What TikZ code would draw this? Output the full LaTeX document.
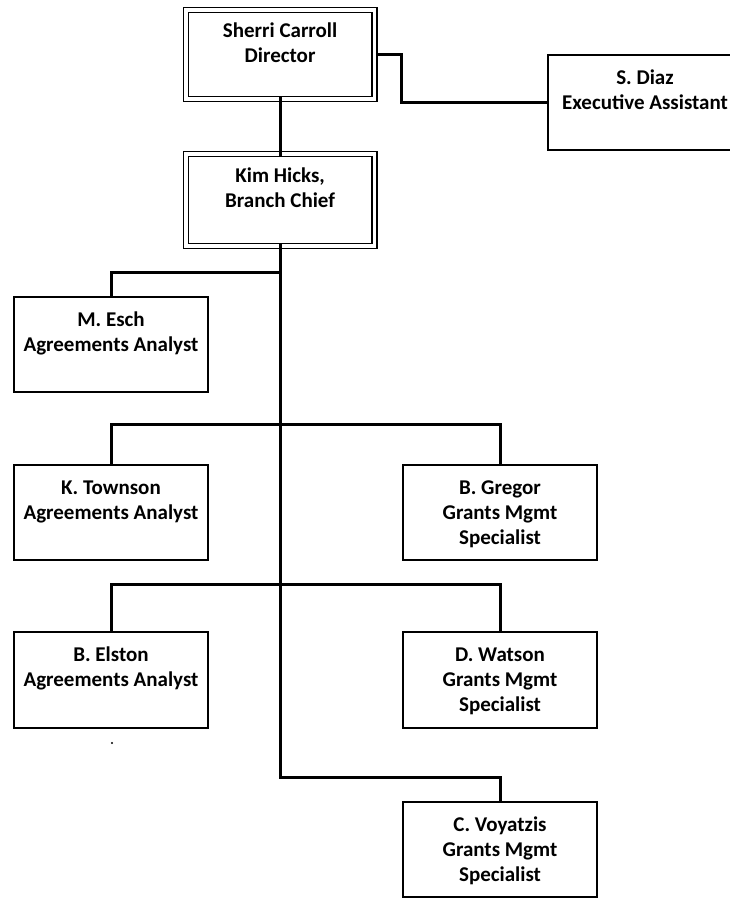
\documentclass[tikz,border=0pt]{standalone}
\usepackage{fontspec}
\setmainfont{Carlito}
\newcommand\topstrut{\rule{0pt}{15pt}}
\begin{document}
\begin{tikzpicture}[x=1pt,y=-1pt,
  box/.style={draw=black, line width=1.5pt, minimum width=194pt, minimum height=95pt, inner sep=0pt},
  dbox/.style={draw=black, line width=1.4pt, double=white, double distance=3.6pt, minimum width=188.8pt, inner sep=0pt},
  txt/.style={anchor=north, inner sep=0pt, align=center, font=\fontsize{21}{25}\selectfont\bfseries},
  conn/.style={draw=black, line width=3pt}]
\clip (0,0) rectangle (730,899);
\fill[white] (0,0) rectangle (730,899);
% boxes
\node[dbox, minimum height=89.3pt] (dir) at (280.1,54.6) {};
\node[dbox, minimum height=91.6pt] (chief) at (280.1,200) {};
\node[box] (diaz) at (645,102.5) {};
\node[box] (esch) at (111,344.5) {};
\node[box] (town) at (111,512.5) {};
\node[box] (greg) at (500,512.5) {};
\node[box, minimum height=96pt] (elst) at (111,680) {};
\node[box, minimum height=96pt] (wats) at (500,680) {};
\node[box] (voya) at (500,849.5) {};
% texts
\node[txt] (dirt) at (280.1,22.5) {\topstrut Sherri Carroll\\Director};
\node[txt] (chieft) at (280.1,167.5) {\topstrut Kim Hicks,\\Branch Chief};
\node[txt] (diazt) at (645,69.5) {\topstrut S. Diaz\\Executive Assistant};
\node[txt] (escht) at (111,311.5) {\topstrut M. Esch\\Agreements Analyst};
\node[txt] (townt) at (111,479.5) {\topstrut K. Townson\\Agreements Analyst};
\node[txt] (gregt) at (500,479.5) {\topstrut B. Gregor\\Grants Mgmt\\Specialist};
\node[txt] (elstt) at (111,646.5) {\topstrut B. Elston\\Agreements Analyst};
\node[txt] (watst) at (500,646.5) {\topstrut D. Watson\\Grants Mgmt\\Specialist};
\node[txt] (voyat) at (500,816.5) {\topstrut C. Voyatzis\\Grants Mgmt\\Specialist};
% connectors
\coordinate (j1) at (401,54.6);
\coordinate (r0) at (280.1,272);
\coordinate (r1) at (280.1,424);
\coordinate (r2) at (280.1,584);
\coordinate (r3) at (280.1,777);
\draw[conn] ([xshift=2.5pt]dir.east) -- (j1) |- (diaz.west);
\draw[conn] ([yshift=2.5pt]dir.south) -- ([yshift=-2.5pt]chief.north);
\draw[conn] ([yshift=2.5pt]chief.south) -- (r3) -| (voya.north);
\draw[conn] (r0) -| (esch.north);
\draw[conn] (town.north) |- (r1) -| (greg.north);
\draw[conn] (elst.north) |- (r2) -| (wats.north);
% stray scan dot
\fill[black] (112,743) circle (1.1pt);
\end{tikzpicture}
\end{document}
